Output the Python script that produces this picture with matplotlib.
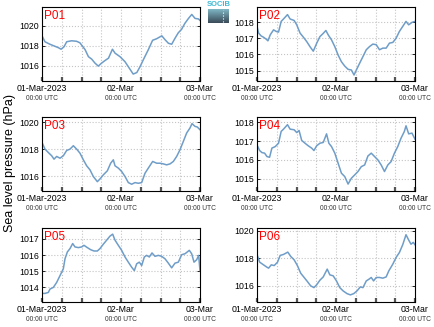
import numpy as np
import matplotlib
matplotlib.use("Agg")
import matplotlib.pyplot as plt
from matplotlib.colors import LinearSegmentedColormap

plt.rcParams['font.family'] = ['Liberation Sans', 'DejaVu Sans']

# ---- data (hours since 01-Mar-2023 00:00 UTC, pressure hPa) ----
p01_t = [0, 0.9, 2.4, 3.9, 5.0, 5.8, 6.7, 7.5, 9.0, 10.5, 11.5, 13.1, 14.1, 15.1, 16.1, 17.1, 18.1, 19.1,
         20.2, 21.4, 22.2, 23.7, 25.2, 26.2, 26.9, 27.7, 28.8, 29.8, 30.8, 32.3, 33.6, 34.8, 36.4, 37.4,
         38.4, 39.4, 40.4, 41.4, 42.4, 43.4, 44.5, 45.5, 46.5, 47.5, 48.0]
p01_v = [1019.0, 1018.4, 1018.15, 1017.95, 1017.8, 1017.65, 1017.9, 1018.4, 1018.5, 1018.45, 1018.3,
         1017.6, 1016.9, 1016.65, 1016.25, 1015.95, 1016.25, 1016.5, 1016.75, 1017.65, 1017.25, 1016.9,
         1016.4, 1015.9, 1015.55, 1015.15, 1015.3, 1015.9, 1016.6, 1017.6, 1018.55, 1018.7, 1019.0,
         1018.6, 1018.25, 1018.15, 1018.75, 1019.3, 1019.65, 1020.25, 1020.75, 1021.15, 1020.75,
         1020.7, 1020.55]

p02_x = [120, 125, 132, 140, 148, 153, 160, 170, 178, 185, 193, 200, 212, 220, 232, 240, 250, 260, 270,
         280, 290, 300, 310, 320, 328, 335, 345, 355, 365, 375, 385, 395, 405, 413, 420, 430, 440, 450,
         460, 470, 480, 490, 500, 510, 520, 530, 540, 550, 560, 570, 578, 588, 597]
p02_t = [round((x - 120) / 9.94, 2) for x in p02_x]
p02_v = [1017.73, 1017.32, 1017.15, 1017.06, 1016.94, 1016.84, 1017.21, 1017.52, 1017.42, 1017.38,
         1018.04, 1018.19, 1018.46, 1018.19, 1018.1, 1017.83, 1017.32, 1017.07, 1016.8, 1016.48, 1016.2,
         1016.68, 1017.1, 1017.3, 1017.48, 1017.21, 1016.9, 1016.48, 1015.96, 1015.55, 1015.28, 1015.08,
         1015.04, 1014.73, 1015.04, 1015.46, 1015.87, 1016.29, 1016.49, 1016.64, 1016.6, 1016.29,
         1016.39, 1016.39, 1016.7, 1016.74, 1017.0, 1017.42, 1017.73, 1018.04, 1017.83, 1017.98, 1018.04]

p03_x = [126, 135, 145, 155, 162, 170, 180, 190, 200, 210, 220, 230, 240, 250, 260, 270, 280, 292, 300,
         310, 322, 332, 340, 345, 355, 365, 375, 385, 395, 405, 415, 425, 435, 445, 458, 470, 480, 490,
         500, 510, 520, 530, 540, 550, 560, 570, 576, 585, 592, 600]
p03_t = [round((x - 126) / 9.875, 2) for x in p03_x]
p03_v = [1018.49, 1018.0, 1017.75, 1017.51, 1017.26, 1017.46, 1017.33, 1017.51, 1017.9, 1018.0,
         1018.25, 1018.0, 1017.7, 1017.21, 1016.77, 1016.47, 1015.98, 1015.6, 1015.8, 1016.1, 1016.4,
         1016.96, 1017.21, 1016.77, 1016.6, 1016.35, 1015.98, 1015.53, 1015.41, 1015.53, 1015.48,
         1015.53, 1016.22, 1016.6, 1017.09, 1016.96, 1016.96, 1016.91, 1016.84, 1016.91, 1017.09,
         1017.46, 1017.95, 1018.57, 1019.19, 1019.56, 1019.88, 1019.68, 1019.63, 1019.43]

p04_x = [120, 128, 135, 143, 150, 158, 165, 175, 185, 193, 200, 212, 220, 232, 240, 247, 255, 265, 275,
         285, 292, 300, 310, 320, 330, 337, 345, 355, 365, 375, 385, 395, 405, 415, 425, 435, 445, 455,
         465, 475, 485, 495, 505, 515, 525, 535, 545, 555, 565, 570, 578, 588, 597]
p04_t = [round((x - 120) / 9.94, 2) for x in p04_x]
p04_v = [1016.8, 1016.5, 1016.39, 1016.36, 1016.18, 1016.14, 1016.63, 1016.71, 1016.89, 1017.52,
         1017.64, 1017.88, 1017.64, 1017.61, 1017.46, 1017.57, 1017.04, 1016.89, 1016.75, 1016.63,
         1016.5, 1016.75, 1016.89, 1016.93, 1017.39, 1016.89, 1016.71, 1016.36, 1015.82, 1015.29,
         1015.11, 1014.71, 1015.02, 1015.2, 1015.38, 1015.64, 1015.73, 1016.21, 1016.36, 1016.18,
         1016.0, 1015.73, 1015.38, 1015.73, 1015.91, 1016.36, 1016.71, 1017.16, 1017.52, 1017.82,
         1017.39, 1017.43, 1017.11]

p05_x = [126, 135, 145, 150, 160, 170, 180, 190, 195, 202, 210, 218, 225, 235, 245, 252, 262, 272, 282,
         292, 300, 310, 320, 330, 338, 345, 355, 365, 375, 385, 395, 403, 410, 418, 425, 433, 440, 448,
         456, 465, 475, 485, 495, 505, 515, 525, 535, 545, 555, 568, 575, 582, 590, 596, 600]
p05_t = [round((x - 126) / 9.875, 2) for x in p05_x]
p05_v = [1013.63, 1013.63, 1013.69, 1013.9, 1014.0, 1014.31, 1014.73, 1015.15, 1015.77, 1016.19,
         1016.4, 1016.71, 1016.5, 1016.46, 1016.5, 1016.6, 1016.46, 1016.33, 1016.25, 1016.25, 1016.4,
         1016.67, 1016.92, 1017.17, 1017.29, 1016.92, 1016.6, 1016.29, 1015.88, 1015.56, 1015.25,
         1015.04, 1015.46, 1015.56, 1015.35, 1015.88, 1015.98, 1015.88, 1016.13, 1015.92, 1015.98,
         1015.92, 1015.77, 1015.5, 1015.21, 1015.5, 1015.56, 1016.02, 1016.08, 1016.29, 1016.08,
         1015.56, 1015.71, 1015.98, 1015.04]

p06_x = [120, 128, 138, 150, 155, 163, 172, 182, 190, 200, 213, 222, 232, 242, 252, 262, 272, 282, 292,
         300, 310, 320, 332, 340, 350, 360, 370, 380, 392, 402, 412, 422, 432, 440, 450, 458, 465, 472,
         480, 490, 500, 510, 518, 530, 540, 550, 560, 570, 578, 585, 592, 597]
p06_t = [round((x - 120) / 9.94, 2) for x in p06_x]
p06_v = [1018.27, 1017.71, 1017.54, 1017.34, 1017.27, 1017.51, 1017.46, 1017.71, 1018.2, 1018.27,
         1018.44, 1018.12, 1017.88, 1017.46, 1016.9, 1016.6, 1016.3, 1015.98, 1015.85, 1016.05, 1016.39,
         1016.63, 1017.2, 1016.78, 1016.71, 1016.34, 1015.85, 1015.61, 1015.41, 1015.32, 1015.41,
         1015.61, 1015.9, 1015.85, 1016.34, 1016.46, 1016.59, 1016.34, 1016.59, 1016.59, 1016.54,
         1016.63, 1017.07, 1017.56, 1018.05, 1018.41, 1018.98, 1019.71, 1019.32, 1019.02, 1019.15, 1018.98]

names = ["P01", "P02", "P03", "P04", "P05", "P06"]
series_t = [p01_t, p02_t, p03_t, p04_t, p05_t, p06_t]
series_v = [p01_v, p02_v, p03_v, p04_v, p05_v, p06_v]
ylims = [(1014.45, 1021.9), (1014.36, 1018.93), (1014.91, 1020.37),
         (1014.34, 1018.29), (1013.1, 1017.67), (1014.8, 1020.2)]
yticks = [[1016, 1018, 1020], [1015, 1016, 1017, 1018], [1016, 1018, 1020],
          [1015, 1016, 1017, 1018], [1014, 1015, 1016, 1017], [1016, 1018, 1020]]
xtick_hours = [0, 24, 48]
xtick_labels = ["01-Mar-2023", "02-Mar", "03-Mar"]
xtick_sub = "00:00 UTC"
minor_hours = [6, 12, 18, 30, 36, 42]

W, H = 434, 327
fig = plt.figure(figsize=(W / 100, H / 100), dpi=100)

lefts = [42, 257]
tops = [7, 117, 228]
aw, ah = 158, 74
line_color = "#6f9dc8"

for i in range(6):
    r, c = divmod(i, 2)
    x0 = lefts[c]
    y0 = tops[r]
    ax = fig.add_axes([x0 / W, 1 - (y0 + ah) / H, aw / W, ah / H])
    ax.plot(series_t[i], series_v[i], color=line_color, lw=1.1)
    ax.set_xlim(0, 48)
    ax.set_ylim(*ylims[i])
    ax.set_yticks(yticks[i])
    ax.set_yticklabels([str(v) for v in yticks[i]], fontsize=6.3)
    ax.set_xticks(xtick_hours)
    ax.set_xticklabels(xtick_labels, fontsize=6.3)
    ax.set_xticks(minor_hours, minor=True)
    ax.grid(True, which='both', axis='x', ls=':', color='#c4c4c4', lw=0.8)
    ax.grid(True, which='major', axis='y', ls=':', color='#c4c4c4', lw=0.8)
    ax.tick_params(axis='x', which='both', direction='in', length=3, width=1.6,
                   color='#555555', pad=2.5)
    ax.tick_params(axis='y', which='both', direction='in', length=2, width=0.6,
                   right=True, pad=2)
    for s in ax.spines.values():
        s.set_linewidth(0.8)
    for h in xtick_hours:
        ax.text(h, -17.7 / ah, xtick_sub, transform=ax.get_xaxis_transform(),
                ha='center', va='center', fontsize=4.8, color='#333333')
    ax.text(0.015, 0.965, names[i], transform=ax.transAxes, color='red',
            fontsize=8.5, ha='left', va='top')

fig.text(0.022, 0.5, "Sea level pressure (hPa)", rotation=90, ha='center',
         va='center', fontsize=9)

# logo
lax = fig.add_axes([208 / W, 1 - 23 / H, 21 / W, 14 / H])
grad = np.linspace(0, 1, 50).reshape(-1, 1)
cm = LinearSegmentedColormap.from_list("g", ["#7fb6c4", "#3a4a58"])
lax.imshow(grad, aspect='auto', cmap=cm, extent=[0, 1, 0, 1])
lax.plot([0.7, 0.7], [0.05, 0.9], ls=':', color='white', lw=0.8)
lax.set_xlim(0, 1)
lax.set_ylim(0, 1)
lax.axis('off')
fig.text(218.5 / W, 1 - 5 / H, "SOCIB", ha='center', va='center', fontsize=5.5,
         color='#3fb8d4', fontweight='bold')

fig.savefig("out.png", dpi=100)
